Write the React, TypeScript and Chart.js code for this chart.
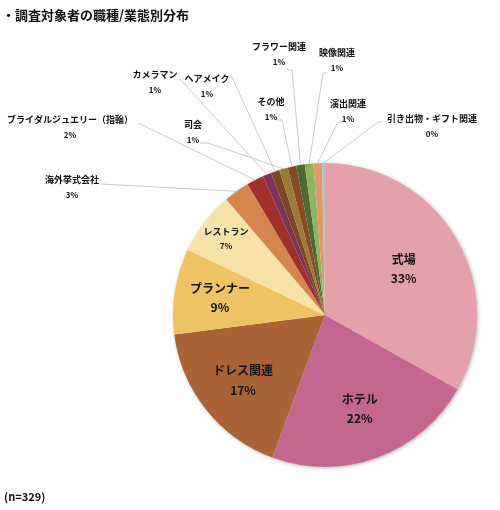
import { Chart, registerables } from 'chart.js';
import { useEffect, useRef } from 'react';

Chart.register(...registerables);

const categories = [
  '式場',
  'ホテル',
  'ドレス関連',
  'プランナー',
  'レストラン',
  '海外挙式会社',
  'ブライダルジュエリー（指輪）',
  'カメラマン',
  'ヘアメイク',
  '司会',
  'その他',
  'フラワー関連',
  '映像関連',
  '演出関連',
  '引き出物・ギフト関連',
];
const counts = [109, 74, 57, 30, 22, 9, 6, 3, 3, 3, 3, 3, 3, 3, 1];
const sampleSize = 329;
const titleText = '・調査対象者の職種/業態別分布';

const colors = [
  '#e5a1ab',
  '#c36791',
  '#a96337',
  '#edc363',
  '#f7e2a8',
  '#d5864f',
  '#a1302a',
  '#7b3459',
  '#7c4824',
  '#9a7b38',
  '#8a4a22',
  '#4f6a35',
  '#8cb561',
  '#e09a6a',
  '#bdbdbd',
];

const FONT = '"Noto Sans CJK JP", "Noto Sans", sans-serif';

// labels drawn inside the pie: radial position as share of radius, font sizes
const insideLabels: Record<number, { r: number; size: number; pct: number }> = {
  0: { r: 0.6, size: 12, pct: 12 },
  1: { r: 0.66, size: 12, pct: 12 },
  2: { r: 0.69, size: 12, pct: 12 },
  3: { r: 0.7, size: 12, pct: 12 },
  4: { r: 0.82, size: 9, pct: 8 },
};

// labels outside with leader lines: text centre, line start, optional elbow
const outsideLabels: Record<number, { x: number; y: number; ax: number; ay: number; ex?: number }> = {
  5: { x: 72, y: 180, ax: 101, ay: 184 },
  6: { x: 70, y: 120, ax: 138, ay: 123 },
  7: { x: 155, y: 75, ax: 180, ay: 79 },
  8: { x: 207, y: 79, ax: 231, ay: 75 },
  9: { x: 193, y: 125, ax: 200, ay: 143, ex: 208 },
  10: { x: 271, y: 102, ax: 277, ay: 120, ex: 282 },
  11: { x: 279, y: 47, ax: 287, ay: 70, ex: 292 },
  12: { x: 337, y: 53, ax: 327, ay: 73, ex: 323 },
  13: { x: 348, y: 104, ax: 342, ay: 122, ex: 338 },
  14: { x: 432, y: 119, ax: 383, ay: 122, ex: 378 },
};

const pct = (v: number) => `${Math.round((v / sampleSize) * 100)}%`;

const labelPlugin = {
  id: 'pieLabels',
  beforeDatasetsDraw(chart: any) {
    const arc = chart.getDatasetMeta(0).data[0];
    if (!arc) return;
    const ctx = chart.ctx;
    ctx.save();
    ctx.shadowColor = 'rgba(0,0,0,0.35)';
    ctx.shadowBlur = 4;
    ctx.shadowOffsetX = 1;
    ctx.shadowOffsetY = 1;
    ctx.fillStyle = '#ffffff';
    ctx.beginPath();
    ctx.arc(arc.x, arc.y, arc.outerRadius - 0.5, 0, Math.PI * 2);
    ctx.fill();
    ctx.restore();
  },
  afterDatasetsDraw(chart: any) {
    const ctx = chart.ctx;
    const arcs = chart.getDatasetMeta(0).data;
    ctx.save();
    ctx.textAlign = 'center';
    ctx.textBaseline = 'middle';
    ctx.fillStyle = '#111111';

    arcs.forEach((arc: any, i: number) => {
      const mid = (arc.startAngle + arc.endAngle) / 2;
      const inside = insideLabels[i];
      if (inside) {
        const x = arc.x + Math.cos(mid) * arc.outerRadius * inside.r;
        const y = arc.y + Math.sin(mid) * arc.outerRadius * inside.r;
        const gap = inside.size * 0.8;
        ctx.font = `bold ${inside.size}px ${FONT}`;
        ctx.fillText(categories[i], x, y - gap);
        ctx.font = `bold ${inside.pct}px ${FONT}`;
        ctx.fillText(pct(counts[i]), x, y + gap);
        return;
      }
      const out = outsideLabels[i];
      if (!out) return;
      const px = arc.x + Math.cos(mid) * arc.outerRadius;
      const py = arc.y + Math.sin(mid) * arc.outerRadius;
      ctx.strokeStyle = '#c9c9c9';
      ctx.lineWidth = 1;
      ctx.beginPath();
      ctx.moveTo(out.ax, out.ay);
      if (out.ex !== undefined) ctx.lineTo(out.ex, out.ay);
      ctx.lineTo(px, py);
      ctx.stroke();

      ctx.font = `bold 9px ${FONT}`;
      ctx.fillText(categories[i], out.x, out.y);
      ctx.font = `bold 8px ${FONT}`;
      ctx.fillText(pct(counts[i]), out.x, out.y + 15);
    });

    ctx.textAlign = 'left';
    ctx.font = `bold 13px ${FONT}`;
    ctx.fillText(titleText, 2, 15);
    ctx.font = `bold 11px ${FONT}`;
    ctx.fillText(`(n=${sampleSize})`, 4, 497);
    ctx.restore();
  },
};

const PieChart: React.FC = () => {
  const chartRef = useRef<Chart<'pie', number[], string> | null>(null);
  const canvasRef = useRef<HTMLCanvasElement | null>(null);

  useEffect(() => {
    if (canvasRef.current) {
      chartRef.current = new Chart(canvasRef.current, {
        type: 'pie',
        data: {
          labels: categories,
          datasets: [
            {
              data: counts,
              backgroundColor: colors,
              borderWidth: 0,
            },
          ],
        },
        options: {
          responsive: true,
          maintainAspectRatio: false,
          animation: false,
          layout: {
            padding: { left: 173, right: 23, top: 163, bottom: 43 },
          },
          plugins: {
            legend: { display: false },
            tooltip: { enabled: false },
          },
        },
        plugins: [labelPlugin],
      });
    }
    return () => {
      if (chartRef.current) {
        chartRef.current.destroy();
      }
    };
  }, []);

  return (
    <div style={{ position: 'fixed', left: 0, top: 0, width: 500, height: 510, background: '#ffffff' }}>
      <canvas ref={canvasRef} />
    </div>
  );
};

export default function App() {
  return <PieChart />;
}
